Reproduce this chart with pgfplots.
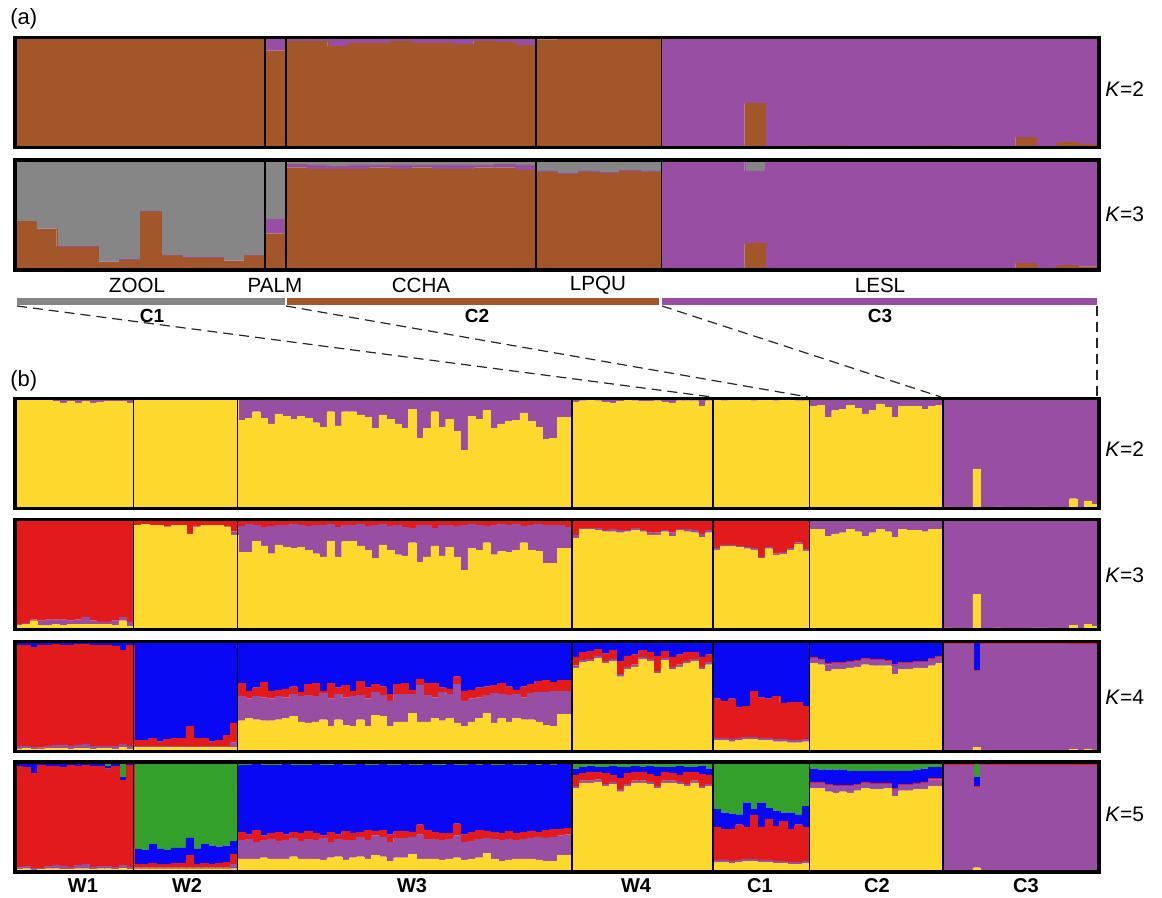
\documentclass[border=0pt]{standalone}
\usepackage{pgfplots}
\pgfplotsset{compat=1.18}
\usepackage{pgfplotstable}
\usepackage{fontspec}
\setmainfont{Liberation Sans}
\definecolor{cbr}{RGB}{163,86,41}
\definecolor{cpu}{RGB}{152,78,163}
\definecolor{cgr}{RGB}{134,134,134}
\definecolor{cye}{RGB}{253,216,45}
\definecolor{cre}{RGB}{227,26,28}
\definecolor{cbl}{RGB}{8,8,245}
\definecolor{cgn}{RGB}{52,160,44}
\pgfplotsset{
  sb/.style={fill=#1, draw=#1, line width=0.1pt},
  struct/.style={scale only axis, width=542pt, height=55pt, xmin=0, ymin=0, ymax=1,
    enlargelimits=false, ybar stacked, bar width=1, ytick=\empty,
    xticklabels={}, major tick length=0pt, xmajorgrids,
    major grid style={black, line width=0.7pt}, axis on top,
    axis line style={line width=1.6pt}, anchor=north west},
  structA/.style={struct, xmax=52, xtick={12,13,25,31}},
  structB/.style={struct, xmax=146, xtick={16,30,75,94,107,125}},
}
% ---------------- panel (a) K=2 : brown, purple
\pgfplotstableread{
BR PU
.99 .01
.985 .015
.99 .01
.99 .01
.99 .01
.99 .01
.99 .01
.99 .01
.99 .01
.99 .01
.99 .01
.99 .01
.88 .12
.97 .03
.97 .03
.92 .08
.95 .05
.95 .05
.97 .03
.95 .05
.95 .05
.94 .06
.97 .03
.96 .04
.93 .07
.98 .02
.985 .015
.985 .015
.985 .015
.99 .01
.99 .01
.005 .995
.005 .995
.005 .995
.005 .995
.40 .60
.005 .995
.005 .995
.015 .985
.015 .985
.005 .995
.005 .995
.005 .995
.015 .985
.015 .985
.005 .995
.005 .995
.005 .995
.09 .91
.01 .99
.05 .95
.03 .97
}\tAtwo
% ---------------- panel (a) K=3 : brown, purple, grey
\pgfplotstableread{
BR PU GR
.44 .005 .555
.37 .005 .625
.21 .005 .785
.21 .005 .785
.07 .005 .925
.09 .005 .905
.53 .005 .465
.13 .005 .865
.11 .005 .885
.11 .005 .885
.08 .005 .915
.13 .005 .865
.33 .13 .54
.93 .03 .04
.92 .03 .05
.92 .02 .06
.92 .03 .05
.93 .02 .05
.92 .03 .05
.93 .02 .05
.92 .03 .05
.92 .03 .05
.93 .02 .05
.93 .03 .04
.91 .04 .05
.89 .01 .10
.87 .01 .12
.89 .01 .10
.88 .01 .11
.90 .01 .09
.89 .01 .10
.005 .995 0
.005 .995 0
.005 .995 0
.005 .995 0
.24 .66 .10
.005 .995 0
.005 .995 0
.01 .99 0
.01 .99 0
.005 .995 0
.005 .995 0
.005 .995 0
.01 .99 0
.01 .985 .005
.005 .995 0
.005 .995 0
.005 .995 0
.06 .935 .005
.005 .995 0
.04 .955 .005
.03 .97 0
}\tAthree
% ---------------- panel (b) K=2 : yellow, purple
\pgfplotstableread{
Y P
.99 .01
.985 .015
.985 .015
.99 .01
.985 .015
.975 .025
.96 .04
.975 .025
.96 .04
.975 .025
.96 .04
.97 .03
.975 .025
.975 .025
.975 .025
.96 .04
.99 .01
.99 .01
.99 .01
.995 .005
.99 .01
.99 .01
.995 .005
.99 .01
.99 .01
.99 .01
.995 .005
.99 .01
.99 .01
.985 .015
.80 .20
.82 .18
.88 .12
.82 .18
.77 .23
.86 .14
.84 .16
.81 .19
.84 .16
.82 .18
.78 .22
.74 .26
.88 .12
.75 .25
.88 .12
.88 .12
.85 .15
.83 .17
.73 .27
.85 .15
.81 .19
.77 .23
.73 .27
.90 .10
.64 .36
.73 .27
.88 .12
.74 .26
.81 .19
.70 .30
.53 .47
.84 .16
.81 .19
.89 .11
.73 .27
.77 .23
.79 .21
.80 .20
.87 .13
.79 .21
.74 .26
.63 .37
.64 .36
.83 .17
.83 .17
.97 .03
.98 .02
.985 .015
.98 .02
.97 .03
.96 .04
.975 .025
.985 .015
.98 .02
.975 .025
.975 .025
.98 .02
.97 .03
.96 .04
.98 .02
.98 .02
.98 .02
.93 .07
.98 .02
.99 .01
.98 .02
.99 .01
.985 .015
.99 .01
.98 .02
.99 .01
.985 .015
.98 .02
.985 .015
.99 .01
.98 .02
.98 .02
.93 .07
.94 .06
.83 .17
.89 .11
.90 .10
.94 .06
.91 .09
.86 .14
.89 .11
.95 .05
.92 .08
.83 .17
.93 .07
.93 .07
.93 .07
.90 .10
.93 .07
.94 .06
.015 .985
.01 .99
.01 .99
.01 .99
.36 .64
.01 .99
.01 .99
.015 .985
.01 .99
.01 .99
.01 .99
.01 .99
.015 .985
.015 .985
.01 .99
.01 .99
.01 .99
.09 .91
.01 .99
.07 .93
.04 .96
}\tBtwo
% ---------------- panel (b) K=3 : yellow, purple, red
\pgfplotstableread{
Y P R
.04 .01 .95
.05 .005 .945
.08 .01 .91
.04 .04 .92
.04 .05 .91
.05 .04 .91
.04 .05 .91
.05 .03 .92
.05 .04 .91
.05 .06 .89
.05 .03 .92
.05 .02 .93
.05 .02 .93
.04 .04 .92
.08 .03 .89
.03 .04 .93
.945 .005 .05
.955 .005 .04
.945 .005 .05
.945 .005 .05
.935 .005 .06
.945 .005 .05
.945 .005 .05
.865 .005 .13
.935 .005 .06
.945 .005 .05
.945 .005 .05
.945 .005 .05
.935 .005 .06
.86 .03 .11
.70 .24 .06
.70 .26 .04
.80 .15 .05
.76 .17 .07
.69 .25 .06
.77 .18 .05
.75 .20 .05
.74 .22 .04
.75 .20 .05
.72 .22 .06
.69 .26 .05
.66 .29 .05
.80 .16 .04
.66 .27 .07
.80 .15 .05
.80 .15 .05
.76 .20 .04
.72 .22 .06
.65 .30 .05
.77 .19 .04
.72 .22 .06
.68 .27 .05
.67 .26 .07
.79 .13 .08
.61 .34 .05
.66 .29 .05
.76 .16 .08
.67 .28 .05
.75 .20 .05
.66 .28 .06
.54 .41 .05
.74 .22 .04
.72 .23 .05
.79 .15 .06
.68 .27 .05
.71 .25 .04
.70 .25 .05
.72 .24 .04
.79 .15 .06
.72 .23 .05
.71 .25 .04
.60 .35 .05
.60 .35 .05
.74 .21 .05
.74 .19 .07
.83 .03 .14
.91 .01 .08
.91 .01 .08
.90 .02 .08
.89 .01 .10
.89 .02 .09
.88 .02 .10
.89 .01 .10
.90 .02 .08
.89 .01 .10
.86 .02 .12
.86 .02 .12
.89 .01 .10
.85 .03 .12
.90 .01 .09
.89 .02 .09
.88 .02 .10
.84 .03 .13
.88 .02 .10
.725 .015 .26
.755 .015 .23
.755 .015 .23
.745 .015 .24
.735 .015 .25
.725 .015 .26
.645 .015 .34
.735 .015 .25
.675 .015 .31
.685 .015 .30
.725 .015 .26
.775 .015 .21
.715 .015 .27
.91 .08 .01
.91 .08 .01
.85 .14 .01
.87 .12 .01
.88 .11 .01
.91 .08 .01
.89 .10 .01
.85 .14 .01
.88 .11 .01
.91 .08 .01
.89 .10 .01
.84 .15 .01
.91 .08 .01
.90 .09 .01
.90 .09 .01
.89 .10 .01
.91 .08 .01
.91 .08 .01
.015 .98 .005
.01 .985 .005
.01 .985 .005
.01 .985 .005
.32 .675 .005
.01 .985 .005
.01 .985 .005
.015 .98 .005
.01 .985 .005
.01 .985 .005
.01 .985 .005
.01 .985 .005
.015 .98 .005
.015 .98 .005
.01 .985 .005
.01 .985 .005
.01 .985 .005
.04 .95 .01
.01 .98 .01
.045 .945 .01
.03 .96 .01
}\tBthree
% ---------------- panel (b) K=4 : yellow, purple, red, blue
\pgfplotstableread{
Y P R B
.025 .02 .925 .03
.03 .02 .92 .03
.02 .02 .905 .055
.025 .01 .935 .03
.03 .02 .92 .03
.03 .03 .915 .025
.03 .03 .91 .03
.025 .02 .925 .03
.03 .03 .915 .025
.03 .04 .905 .025
.025 .02 .925 .03
.03 .02 .92 .03
.03 .02 .92 .03
.025 .02 .915 .04
.04 .03 .85 .08
.025 .02 .925 .03
.04 .01 .05 .90
.04 .01 .05 .90
.04 .01 .07 .88
.04 .01 .04 .91
.04 .01 .06 .89
.04 .01 .07 .88
.04 .01 .07 .88
.04 .01 .18 .77
.04 .01 .07 .88
.04 .01 .07 .88
.04 .01 .04 .91
.04 .01 .05 .90
.04 .01 .10 .85
.04 .04 .18 .74
.28 .22 .12 .38
.30 .18 .07 .45
.29 .21 .08 .42
.28 .21 .14 .37
.28 .20 .07 .45
.29 .21 .06 .44
.30 .19 .08 .43
.32 .20 .07 .41
.27 .23 .04 .46
.26 .25 .10 .39
.27 .23 .12 .38
.29 .24 .02 .45
.23 .25 .14 .38
.29 .23 .06 .42
.24 .25 .11 .40
.23 .27 .05 .45
.29 .22 .13 .36
.23 .25 .10 .42
.33 .21 .07 .39
.32 .19 .08 .41
.23 .23 .06 .48
.27 .25 .09 .39
.27 .25 .10 .38
.35 .17 .04 .44
.27 .33 .06 .34
.27 .24 .11 .38
.30 .19 .13 .38
.28 .26 .04 .42
.30 .22 .05 .43
.26 .35 .07 .32
.23 .23 .09 .45
.27 .21 .08 .44
.30 .19 .09 .42
.35 .16 .08 .41
.26 .27 .07 .40
.30 .22 .10 .38
.27 .24 .08 .41
.30 .22 .04 .44
.29 .20 .10 .41
.29 .24 .08 .39
.27 .27 .10 .36
.24 .30 .11 .35
.23 .32 .08 .37
.34 .21 .10 .35
.34 .21 .10 .35
.76 .02 .08 .14
.81 .02 .07 .10
.82 .02 .07 .09
.85 .02 .06 .07
.80 .02 .07 .11
.82 .02 .08 .08
.68 .02 .12 .18
.75 .02 .10 .13
.77 .02 .09 .12
.84 .02 .06 .08
.82 .02 .06 .10
.71 .02 .14 .13
.83 .02 .06 .09
.75 .02 .09 .14
.77 .02 .09 .12
.80 .02 .08 .10
.82 .02 .06 .10
.75 .02 .09 .14
.79 .02 .07 .12
.10 .02 .36 .52
.10 .02 .34 .54
.09 .02 .37 .52
.10 .02 .28 .60
.11 .02 .28 .59
.11 .02 .42 .45
.10 .02 .37 .51
.10 .02 .36 .52
.09 .02 .39 .50
.09 .02 .33 .56
.08 .02 .35 .55
.08 .02 .35 .55
.09 .02 .30 .59
.80 .05 .01 .14
.79 .04 .01 .16
.73 .06 .01 .20
.75 .05 .01 .19
.75 .05 .01 .19
.76 .05 .01 .18
.77 .05 .01 .17
.79 .05 .01 .15
.78 .05 .01 .16
.78 .05 .01 .16
.78 .04 .01 .17
.70 .08 .01 .21
.75 .05 .01 .19
.75 .05 .01 .19
.76 .05 .01 .18
.76 .05 .01 .18
.78 .06 .01 .15
.80 .06 .01 .13
.01 .97 .01 .01
.01 .97 .01 .01
.01 .97 .01 .01
.01 .97 .01 .01
.04 .695 .005 .26
.01 .97 .01 .01
.01 .97 .01 .01
.01 .97 .01 .01
.01 .97 .01 .01
.01 .97 .01 .01
.01 .97 .01 .01
.01 .97 .01 .01
.01 .97 .01 .01
.01 .97 .01 .01
.01 .97 .01 .01
.01 .97 .01 .01
.01 .97 .01 .01
.02 .955 .015 .01
.01 .965 .015 .01
.025 .95 .015 .01
.015 .96 .015 .01
}\tBfour
% ---------------- panel (b) K=5 : yellow, purple, red, blue, green
\pgfplotstableread{
Y P R B G
.025 .015 .92 .03 .01
.03 .02 .905 .03 .015
.02 .015 .865 .09 .01
.025 .01 .935 .02 .01
.03 .02 .915 .025 .01
.03 .03 .90 .03 .01
.025 .03 .90 .03 .015
.025 .02 .925 .02 .01
.03 .03 .905 .025 .01
.03 .04 .90 .02 .01
.025 .02 .915 .025 .015
.03 .02 .91 .03 .01
.03 .02 .89 .02 .04
.025 .02 .915 .03 .01
.035 .03 .77 .025 .14
.025 .02 .925 .02 .01
.03 .01 .03 .14 .79
.03 .01 .03 .13 .80
.03 .01 .04 .17 .75
.03 .01 .03 .14 .79
.03 .01 .03 .13 .80
.03 .01 .04 .14 .78
.03 .01 .04 .14 .78
.03 .01 .11 .16 .69
.03 .01 .03 .14 .79
.03 .01 .04 .17 .75
.03 .01 .03 .17 .76
.03 .01 .04 .15 .77
.03 .01 .05 .15 .76
.03 .04 .09 .12 .72
.12 .17 .07 .61 .03
.12 .18 .04 .635 .025
.12 .15 .11 .60 .02
.13 .16 .04 .64 .03
.12 .18 .05 .625 .025
.12 .16 .08 .61 .03
.12 .17 .05 .64 .02
.14 .17 .05 .61 .03
.12 .16 .07 .625 .025
.12 .18 .07 .60 .03
.12 .17 .06 .63 .02
.11 .20 .02 .645 .025
.13 .14 .09 .61 .03
.14 .16 .04 .64 .02
.11 .18 .08 .60 .03
.13 .16 .06 .625 .025
.14 .18 .04 .62 .02
.12 .17 .09 .59 .03
.15 .18 .04 .605 .025
.14 .18 .06 .60 .02
.10 .17 .07 .63 .03
.13 .18 .06 .605 .025
.13 .18 .06 .61 .02
.16 .16 .04 .615 .025
.12 .22 .09 .54 .03
.12 .18 .08 .60 .02
.12 .18 .06 .615 .025
.11 .18 .06 .62 .03
.12 .18 .05 .63 .02
.13 .20 .11 .535 .025
.11 .16 .07 .63 .03
.12 .16 .08 .62 .02
.13 .17 .08 .595 .025
.17 .14 .06 .61 .02
.12 .18 .06 .61 .03
.10 .19 .06 .625 .025
.11 .19 .07 .61 .02
.12 .17 .06 .625 .025
.12 .18 .06 .61 .03
.12 .19 .06 .61 .02
.11 .21 .04 .615 .025
.10 .21 .07 .60 .02
.10 .22 .07 .585 .025
.15 .18 .06 .59 .02
.15 .19 .06 .58 .02
.76 .02 .10 .06 .06
.81 .02 .07 .05 .05
.81 .02 .08 .05 .04
.82 .02 .07 .04 .05
.78 .02 .10 .05 .05
.80 .02 .06 .08 .04
.73 .02 .10 .10 .05
.78 .02 .10 .05 .05
.81 .02 .08 .05 .04
.81 .02 .08 .04 .05
.80 .02 .07 .07 .04
.76 .02 .09 .08 .05
.81 .02 .08 .04 .05
.81 .02 .07 .05 .05
.80 .02 .06 .08 .04
.78 .02 .11 .04 .05
.81 .02 .08 .04 .05
.76 .02 .11 .07 .04
.78 .02 .08 .06 .06
.09 .02 .30 .16 .43
.09 .02 .28 .15 .46
.08 .02 .29 .14 .47
.09 .02 .32 .09 .48
.10 .02 .29 .22 .37
.10 .02 .40 .05 .43
.09 .02 .30 .22 .37
.09 .02 .37 .10 .42
.08 .02 .32 .13 .45
.08 .02 .36 .08 .46
.07 .02 .30 .15 .46
.07 .02 .34 .09 .48
.08 .02 .31 .19 .40
.76 .05 .01 .12 .06
.76 .05 .01 .11 .07
.73 .06 .01 .13 .07
.72 .06 .01 .14 .07
.73 .05 .01 .14 .07
.72 .06 .01 .13 .08
.74 .05 .01 .12 .08
.76 .05 .01 .10 .08
.75 .05 .01 .11 .08
.75 .05 .01 .11 .08
.76 .04 .01 .11 .08
.69 .06 .01 .16 .08
.74 .05 .01 .12 .08
.74 .05 .01 .12 .08
.75 .05 .01 .12 .07
.75 .06 .01 .12 .06
.78 .06 .01 .10 .05
.78 .06 .01 .10 .05
.01 .965 .01 .005 .01
.01 .965 .01 .005 .01
.01 .965 .01 .005 .01
.01 .965 .01 .005 .01
.04 .73 .01 .08 .14
.01 .965 .01 .005 .01
.01 .965 .01 .005 .01
.01 .965 .01 .005 .01
.01 .965 .01 .005 .01
.01 .965 .01 .005 .01
.01 .965 .01 .005 .01
.01 .965 .01 .005 .01
.01 .965 .01 .005 .01
.01 .965 .01 .005 .01
.01 .965 .01 .005 .01
.01 .965 .01 .005 .01
.01 .965 .01 .005 .01
.015 .955 .015 .005 .01
.01 .96 .015 .005 .01
.015 .955 .015 .005 .01
.01 .96 .015 .005 .01
}\tBfive

\begin{document}
\begin{tikzpicture}
\useasboundingbox (0,0) rectangle (581pt,-449pt);
% ---- panel (a)
\begin{axis}[structA, at={(7.5pt,-18.75pt)}]
\addplot[sb=cbr] table[x expr=\coordindex+0.5, y=BR]{\tAtwo};
\addplot[sb=cpu] table[x expr=\coordindex+0.5, y=PU]{\tAtwo};
\end{axis}
\begin{axis}[structA, at={(7.5pt,-80pt)}]
\addplot[sb=cbr] table[x expr=\coordindex+0.5, y=BR]{\tAthree};
\addplot[sb=cpu] table[x expr=\coordindex+0.5, y=PU]{\tAthree};
\addplot[sb=cgr] table[x expr=\coordindex+0.5, y=GR]{\tAthree};
\end{axis}
% ---- panel (b)
\begin{axis}[structB, at={(7.5pt,-199.25pt)}]
\addplot[sb=cye] table[x expr=\coordindex+0.5, y=Y]{\tBtwo};
\addplot[sb=cpu] table[x expr=\coordindex+0.5, y=P]{\tBtwo};
\end{axis}
\begin{axis}[structB, at={(7.5pt,-259.75pt)}]
\addplot[sb=cye] table[x expr=\coordindex+0.5, y=Y]{\tBthree};
\addplot[sb=cpu] table[x expr=\coordindex+0.5, y=P]{\tBthree};
\addplot[sb=cre] table[x expr=\coordindex+0.5, y=R]{\tBthree};
\end{axis}
\begin{axis}[structB, at={(7.5pt,-320.75pt)}]
\addplot[sb=cye] table[x expr=\coordindex+0.5, y=Y]{\tBfour};
\addplot[sb=cpu] table[x expr=\coordindex+0.5, y=P]{\tBfour};
\addplot[sb=cre] table[x expr=\coordindex+0.5, y=R]{\tBfour};
\addplot[sb=cbl] table[x expr=\coordindex+0.5, y=B]{\tBfour};
\end{axis}
\begin{axis}[structB, at={(7.5pt,-381pt)}]
\addplot[sb=cye] table[x expr=\coordindex+0.5, y=Y]{\tBfive};
\addplot[sb=cpu] table[x expr=\coordindex+0.5, y=P]{\tBfive};
\addplot[sb=cre] table[x expr=\coordindex+0.5, y=R]{\tBfive};
\addplot[sb=cbl] table[x expr=\coordindex+0.5, y=B]{\tBfive};
\addplot[sb=cgn] table[x expr=\coordindex+0.5, y=G]{\tBfive};
\end{axis}
% ---- annotations (1 unit = 1 px of the reference)
\begin{scope}[x=0.5pt,y=-0.5pt]
\node[anchor=west, inner sep=0pt, font=\fontsize{11}{13}\selectfont] at (10,19) {(a)};
\node[anchor=west, inner sep=0pt, font=\fontsize{11}{13}\selectfont] at (10,381) {(b)};
\foreach \yy/\kk in {89/2,214.5/3,449/2,575/3,697/4,814/5}
  \node[anchor=west, inner sep=0pt, font=\fontsize{10.5}{12}\selectfont] at (1105,\yy) {\textit{K}=\kk};
\begin{scope}[font=\fontsize{10.3}{12}\selectfont]
\node at (137,285) {ZOOL};
\node at (275,285) {PALM};
\node at (421,285) {CCHA};
\node at (598,285) {LPQU};
\node at (880,285) {LESL};
\end{scope}
\fill[cgr] (17,298) rectangle (285,305);
\fill[cbr] (287,298) rectangle (659,305);
\fill[cpu] (662,298) rectangle (1097,305);
\begin{scope}[font=\fontsize{9.5}{11}\selectfont\bfseries]
\node at (152,316) {C1};
\node at (477,316) {C2};
\node at (880,316) {C3};
\end{scope}
\begin{scope}[black!85, line width=0.6pt, dash pattern=on 5pt off 3pt]
\draw (17,306) -- (712,397);
\draw (286,306) -- (808,397);
\draw (662,306) -- (941,397);
\draw (1097,306) -- (1097,397);
\end{scope}
\begin{scope}[font=\fontsize{10}{12}\selectfont\bfseries]
\node at (83,886) {W1};
\node at (187,886) {W2};
\node at (412,886) {W3};
\node at (636,886) {W4};
\node at (760,886) {C1};
\node at (877,886) {C2};
\node at (1026,886) {C3};
\end{scope}
\end{scope}
\end{tikzpicture}
\end{document}
